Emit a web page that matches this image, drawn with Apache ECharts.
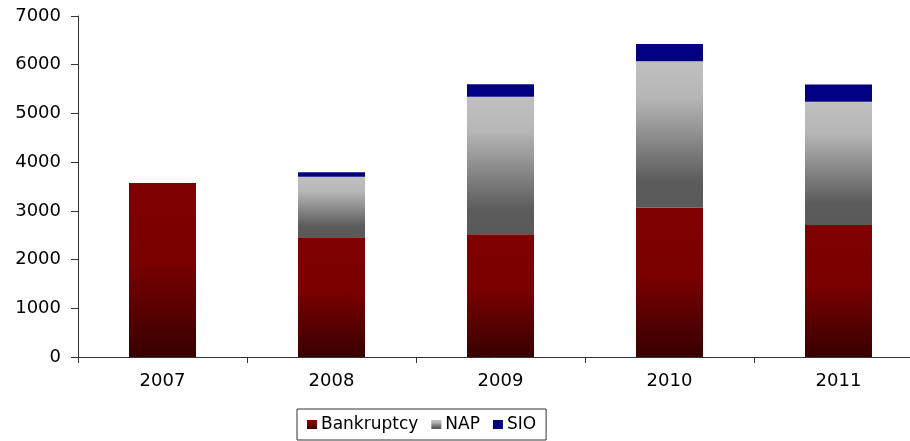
<!DOCTYPE html>
<html>
<head>
<meta charset="utf-8">
<script src="https://cdn.jsdelivr.net/npm/echarts@6/dist/echarts.min.js"></script>
<style>
  html, body { margin: 0; padding: 0; background: #fff; }
  #chart { width: 910px; height: 441px; }
</style>
</head>
<body>
<div id="chart"></div>
<script>
// Case counts per year, stacked by procedure type
const years = ['2007', '2008', '2009', '2010', '2011'];
const bankruptcy = [3570, 2460, 2520, 3065, 2710];
const nap = [0, 1240, 2820, 3005, 2530];
const sio = [0, 90, 260, 355, 355];
const yTicks = [0, 1000, 2000, 3000, 4000, 5000, 6000, 7000];

const FONT = 'DejaVu Sans';

function vGrad(stops) {
  return new echarts.graphic.LinearGradient(0, 0, 0, 1,
    stops.map(s => ({ offset: s[0], color: s[1] })));
}

const redFill = vGrad([[0, '#800000'], [0.45, '#7a0000'], [1, '#380000']]);
const greyFill = vGrad([[0, '#c0c0c0'], [0.25, '#b6b6b6'], [0.82, '#5c5c5c'], [1, '#595959']]);
const blueFill = '#000080';

const chart = echarts.init(document.getElementById('chart'), null, { renderer: 'canvas' });

chart.setOption({
  animation: false,
  backgroundColor: '#ffffff',
  // plot area runs past the right edge of the canvas
  grid: {
    left: 78, top: 16, width: 845, bottom: 84,
    containLabel: false, outerBoundsMode: 'none'
  },
  legend: {
    left: 297,
    top: 409,
    orient: 'horizontal',
    icon: 'rect',
    itemWidth: 10,
    itemHeight: 9,
    itemGap: 13,
    padding: [7, 10, 7, 10],
    borderColor: '#333333',
    borderWidth: 1,
    textStyle: { fontFamily: FONT, fontSize: 17, color: '#000000', padding: [0, 0, 0, -1] },
    data: ['Bankruptcy', 'NAP', 'SIO']
  },
  xAxis: {
    type: 'category',
    data: years,
    axisLine: { lineStyle: { color: '#333333', width: 1 } },
    axisTick: { show: true, alignWithLabel: false, length: 6, lineStyle: { color: '#333333' } },
    axisLabel: { fontFamily: FONT, fontSize: 18, color: '#000000', margin: 15 },
    splitLine: { show: false }
  },
  yAxis: {
    type: 'value',
    min: yTicks[0],
    max: yTicks[yTicks.length - 1],
    interval: yTicks[1] - yTicks[0],
    axisLine: { show: true, lineStyle: { color: '#333333', width: 1 } },
    axisTick: { show: true, length: 7, lineStyle: { color: '#333333' } },
    axisLabel: {
      fontFamily: FONT, fontSize: 18, color: '#000000', margin: 17,
      formatter: v => String(v)
    },
    splitLine: { show: false }
  },
  series: [
    {
      name: 'Bankruptcy', type: 'bar', stack: 'total', data: bankruptcy,
      barWidth: 67,
      itemStyle: { color: redFill }
    },
    {
      name: 'NAP', type: 'bar', stack: 'total', data: nap,
      barWidth: 67,
      itemStyle: { color: greyFill }
    },
    {
      name: 'SIO', type: 'bar', stack: 'total', data: sio,
      barWidth: 67,
      itemStyle: { color: blueFill }
    }
  ]
});
</script>
</body>
</html>
